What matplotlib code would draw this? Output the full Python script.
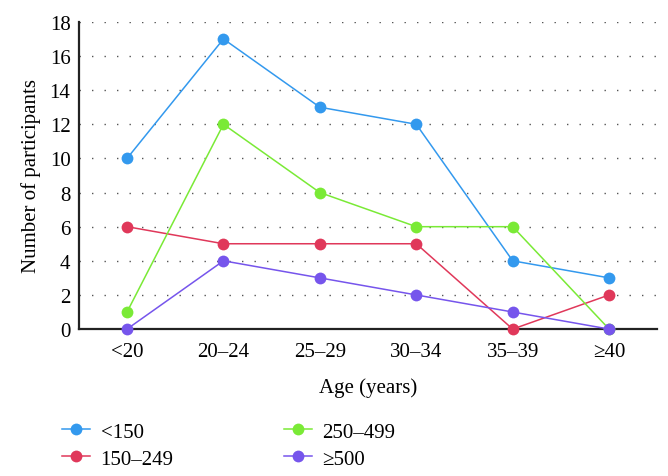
import matplotlib
matplotlib.use("Agg")
import matplotlib.pyplot as plt

plt.rcParams["font.family"] = ["Liberation Serif", "DejaVu Serif"]

# 数据
ages = ["<20", "20–24", "25–29", "30–34", "35–39", "≥40"]
lt150 = [10, 17, 13, 12, 4, 3]
r150_249 = [6, 5, 5, 5, 0, 2]
r250_499 = [1, 12, 8, 6, 6, 0]
ge500 = [0, 4, 3, 2, 1, 0]

series = [
    ("<150", lt150, "#3399ee"),
    ("150–249", r150_249, "#e0385a"),
    ("250–499", r250_499, "#7aea36"),
    ("≥500", ge500, "#7655ec"),
]

fig = plt.figure(figsize=(6.68, 4.77), dpi=100)
ax = fig.add_axes([0.118, 0.308, 0.866, 0.644])

x = list(range(len(ages)))
handles = []
for label, vals, color in series:
    h, = ax.plot(x, vals, color=color, lw=1.1, marker="o", markersize=8.5,
                 markeredgewidth=0, label=label, clip_on=False, zorder=3)
    handles.append(h)

ax.set_xlim(-0.5, 5.5)
ax.set_ylim(0, 18)
ax.set_yticks(range(0, 19, 2))
ax.set_xticks(x)
ax.set_xticklabels(ages)
ax.tick_params(length=0, labelsize=15, pad=6)
ax.tick_params(axis="x", pad=9)
ax.yaxis.grid(True, linestyle=(0, (1, 8)), color="#555555", lw=1)
ax.set_axisbelow(True)

for s in ["top", "right"]:
    ax.spines[s].set_visible(False)
for s in ["left", "bottom"]:
    ax.spines[s].set_linewidth(1.6)
    ax.spines[s].set_color("#222222")

ax.set_xlabel("Age (years)", fontsize=15, labelpad=12)
ax.set_ylabel("Number of participants", fontsize=15, labelpad=6)

fig.legend(handles=handles, ncol=2, loc="upper left",
           bbox_to_anchor=(0.093, 0.113), frameon=False, fontsize=15,
           handlelength=1.35, handletextpad=0.5, columnspacing=5.3,
           labelspacing=0.35, borderpad=0, borderaxespad=0)

fig.savefig("out.png", dpi=100)
